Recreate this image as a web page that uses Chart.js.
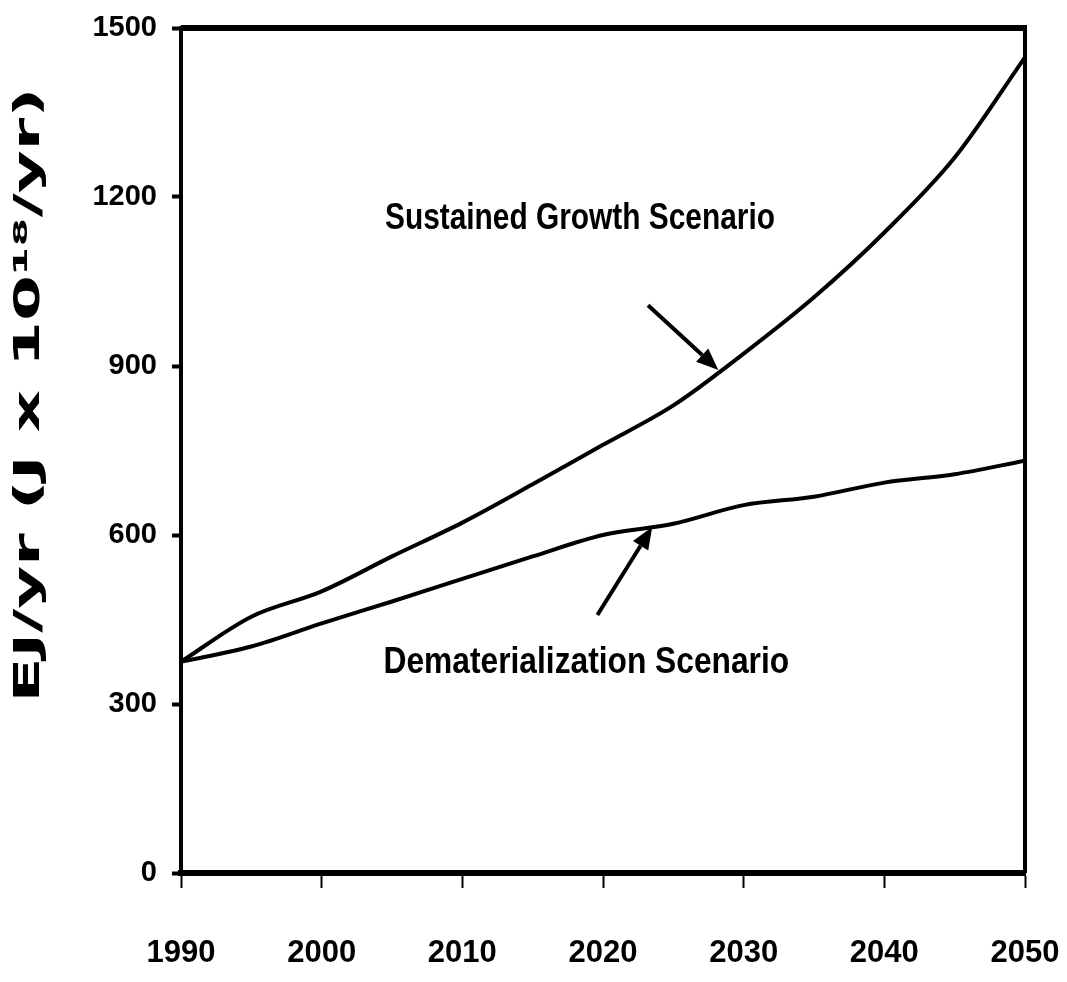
<!DOCTYPE html>
<html>
<head>
<meta charset="utf-8">
<script src="https://cdn.jsdelivr.net/npm/chart.js@4.4.0/dist/chart.umd.min.js"></script>
<style>
  html, body { margin: 0; padding: 0; background: #fff; }
  #wrap { width: 1067px; height: 982px; }
</style>
</head>
<body>
<div id="wrap"><canvas id="energyChart"></canvas></div>
<script>
const years = [1990, 1995, 2000, 2005, 2010, 2015, 2020, 2025, 2030, 2035, 2040, 2045, 2050];
const sustainedGrowth = [375, 455, 500, 562, 622, 690, 760, 830, 922, 1022, 1137, 1270, 1448];
const dematerialization = [375, 402, 443, 482, 522, 562, 600, 620, 653, 668, 693, 708, 732];
const yTicks = [0, 300, 600, 900, 1200, 1500];
const xTicks = [1990, 2000, 2010, 2020, 2030, 2040, 2050];
const seriesNames = ['Sustained Growth Scenario', 'Dematerialization Scenario'];

const sans = '"Liberation Sans", Arial, sans-serif';
const ctx = document.querySelector('#energyChart').getContext('2d');

// labels with arrows, placed in data units
const notes = [
    { text: seriesNames[0], x: 2004.5, y: 1160, from: [2023.2, 1008], to: [2028.2, 893] },
    { text: seriesNames[1], x: 2004.4, y: 372, from: [2019.6, 458], to: [2023.5, 614] }
];

const toPoints = (vals) => years.map((yr, i) => ({ x: yr, y: vals[i] }));

const framePlugin = {
    id: 'frame',
    afterDraw(chart) {
        const c = chart.ctx;
        const a = chart.chartArea;
        const xs = chart.scales.x;
        const ys = chart.scales.y;
        c.save();
        c.strokeStyle = '#000';
        c.lineWidth = 6;
        c.beginPath();
        c.moveTo(a.left, a.top);
        c.lineTo(a.right + 2, a.top);
        c.stroke();
        c.lineWidth = 4;
        c.beginPath();
        c.moveTo(a.right, a.top);
        c.lineTo(a.right, a.bottom);
        c.stroke();

        // notes and arrows
        c.fillStyle = '#000';
        c.font = 'bold 36px ' + sans;
        c.textBaseline = 'middle';
        notes.forEach(n => {
            const tx = xs.getPixelForValue(n.x), ty = ys.getPixelForValue(n.y);
            const tw = c.measureText(n.text).width;
            const target = n.text.length * 15.6;
            c.save();
            c.translate(tx, ty);
            c.scale(target / tw, 1);
            c.textAlign = 'left';
            c.fillText(n.text, 0, 0);
            c.restore();

            const x0 = xs.getPixelForValue(n.from[0]), y0 = ys.getPixelForValue(n.from[1]);
            const x1 = xs.getPixelForValue(n.to[0]), y1 = ys.getPixelForValue(n.to[1]);
            const ang = Math.atan2(y1 - y0, x1 - x0);
            const head = 22, half = 9;
            c.lineWidth = 4;
            c.beginPath();
            c.moveTo(x0, y0);
            c.lineTo(x1 - head * Math.cos(ang), y1 - head * Math.sin(ang));
            c.stroke();
            c.beginPath();
            c.moveTo(x1, y1);
            c.lineTo(x1 - head * Math.cos(ang) + half * Math.sin(ang), y1 - head * Math.sin(ang) - half * Math.cos(ang));
            c.lineTo(x1 - head * Math.cos(ang) - half * Math.sin(ang), y1 - head * Math.sin(ang) + half * Math.cos(ang));
            c.closePath();
            c.fill();
        });

        // y axis title, stretched along its length like the original
        const title = 'EJ/yr (J x 10\u00B9\u2078/yr)';
        c.font = 'bold 35px "DejaVu Sans", sans-serif';
        const w = c.measureText(title).width;
        c.translate(30, 395);
        c.rotate(-Math.PI / 2);
        c.scale(615 / w, 1);
        c.textAlign = 'center';
        c.fillText(title, 0, 0);
        c.restore();
    }
};

let energyChart = new Chart(ctx, {
    type: 'line',
    data: {
        datasets: [
            {
                label: seriesNames[0],
                data: toPoints(sustainedGrowth),
                borderColor: '#000',
                borderWidth: 4,
                pointRadius: 0,
                cubicInterpolationMode: 'monotone',
                fill: false
            },
            {
                label: seriesNames[1],
                data: toPoints(dematerialization),
                borderColor: '#000',
                borderWidth: 4,
                pointRadius: 0,
                cubicInterpolationMode: 'monotone',
                fill: false
            }
        ]
    },
    options: {
        responsive: true,
        maintainAspectRatio: false,
        animation: false,
        layout: {
            padding: { left: 0, right: 42, top: 28, bottom: 0 }
        },
        plugins: {
            legend: { display: false },
            tooltip: { enabled: false }
        },
        scales: {
            x: {
                type: 'linear',
                min: xTicks[0],
                max: xTicks[xTicks.length - 1],
                afterBuildTicks: (s) => { s.ticks = xTicks.map(v => ({ value: v })); },
                afterFit: (s) => { s.height = 109; s.paddingLeft = 0; s.paddingRight = 0; },
                ticks: {
                    color: '#000',
                    padding: 47,
                    maxRotation: 0,
                    font: { family: sans, size: 31, weight: 'bold' },
                    callback: (v) => String(v)
                },
                grid: {
                    drawOnChartArea: false,
                    drawTicks: true,
                    tickLength: 15,
                    tickWidth: 2,
                    tickColor: '#000'
                },
                border: { display: true, color: '#000', width: 6 }
            },
            y: {
                min: yTicks[0],
                max: yTicks[yTicks.length - 1],
                afterBuildTicks: (s) => { s.ticks = yTicks.map(v => ({ value: v })); },
                afterFit: (s) => { s.width = 181; s.paddingTop = 0; s.paddingBottom = 0; },
                ticks: {
                    color: '#000',
                    padding: 15,
                    font: { family: sans, size: 29, weight: 'bold' },
                    callback: (v) => String(v)
                },
                grid: {
                    drawOnChartArea: false,
                    drawTicks: true,
                    tickLength: 9,
                    tickWidth: 4,
                    tickColor: '#000'
                },
                border: { display: true, color: '#000', width: 4 }
            }
        }
    },
    plugins: [framePlugin]
});
</script>
</body>
</html>
